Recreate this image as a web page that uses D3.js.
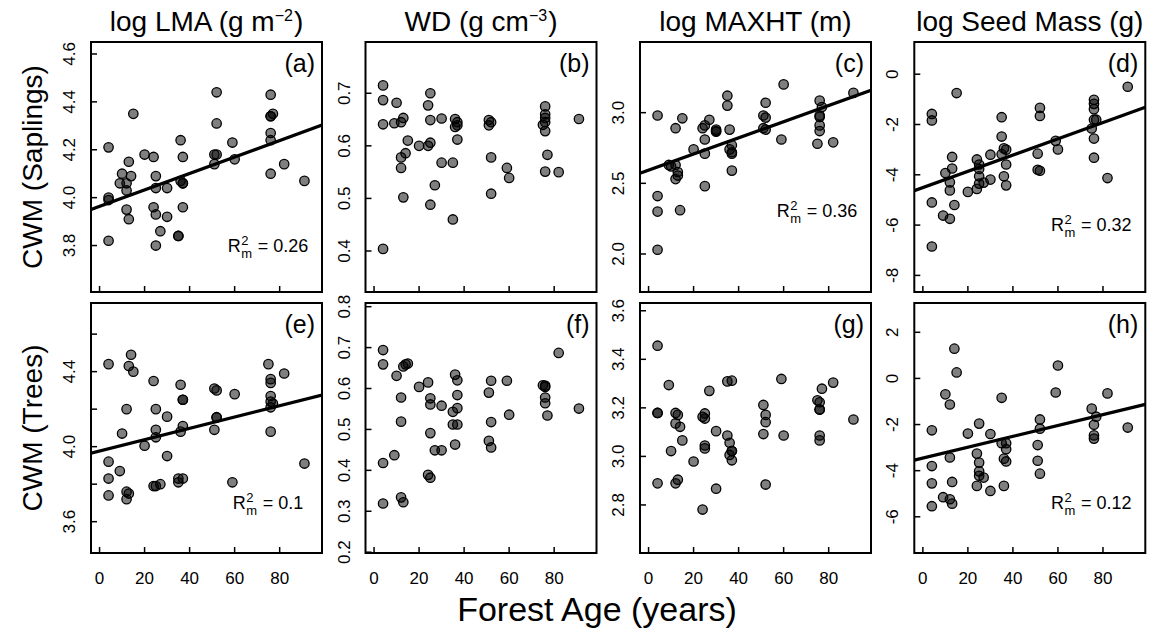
<!DOCTYPE html>
<html>
<head>
<meta charset="utf-8">
<script src="https://cdn.jsdelivr.net/npm/d3@7"></script>
<style>
  body { margin: 0; background: #fff; }
  svg { display: block; font-family: "Liberation Sans", Arial, sans-serif; }
</style>
</head>
<body>
<div id="chart"></div>
<script>
// forest age (years) vs community weighted mean, [age, value]
var lmaSap = [[4,4.21],[4,4.00],[4,3.99],[4,3.82],[10,4.10],[9,4.06],[12,4.06],[12,4.03],[13,4.15],[14,4.09],[12,3.95],[13,3.91],[15,4.35],[20,4.18],[24,4.17],[25,4.09],[25,4.04],[24,3.96],[25,3.93],[27,3.86],[25,3.80],[30,4.04],[30,3.92],[35,3.84],[35,3.84],[36,4.24],[37,4.17],[36,4.07],[37,4.06],[37,4.06],[37,3.96],[52,4.44],[52,4.31],[51,4.18],[52,4.18],[51,4.14],[59,4.23],[60,4.16],[76,4.43],[76,4.34],[77,4.35],[76,4.34],[76,4.27],[76,4.24],[76,4.10],[82,4.14],[91,4.07]];
var wdSap = [[4,0.715],[4,0.687],[4,0.641],[4,0.404],[9,0.643],[10,0.682],[12,0.645],[13,0.653],[15,0.610],[14,0.586],[12,0.578],[12,0.558],[13,0.502],[20,0.600],[24,0.677],[25,0.700],[25,0.649],[25,0.606],[24,0.600],[27,0.525],[25,0.488],[30,0.652],[30,0.568],[35,0.568],[35,0.460],[36,0.651],[37,0.645],[36,0.636],[37,0.639],[37,0.612],[51,0.649],[52,0.645],[51,0.639],[52,0.578],[52,0.509],[59,0.558],[60,0.539],[76,0.675],[76,0.660],[76,0.653],[76,0.645],[75,0.640],[76,0.628],[77,0.583],[76,0.551],[82,0.550],[91,0.651]];
var maxhtSap = [[4,2.98],[4,2.41],[4,2.30],[4,2.03],[9,2.63],[10,2.62],[12,2.89],[12,2.63],[12,2.53],[13,2.58],[13,2.555],[14,2.31],[15,2.96],[20,2.74],[24,2.89],[25,2.91],[25,2.81],[25,2.71],[25,2.48],[27,2.95],[30,2.88],[30,2.87],[30,2.865],[35,3.12],[35,3.05],[36,2.88],[36,2.74],[37,2.77],[37,2.72],[37,2.71],[37,2.59],[51,2.98],[52,3.07],[52,2.965],[51,2.89],[52,2.88],[59,2.81],[60,3.20],[76,3.085],[76,2.98],[76,2.97],[76,2.91],[76,2.87],[75,2.78],[77,3.04],[82,2.79],[91,3.14]];
var seedSap = [[4,-1.58],[4,-1.84],[4,-5.10],[4,-6.85],[9,-5.62],[10,-3.93],[12,-4.30],[12,-4.62],[12,-5.75],[13,-3.29],[13,-3.75],[14,-5.20],[15,-0.75],[20,-4.68],[24,-3.39],[25,-3.59],[25,-3.77],[25,-4.06],[25,-4.35],[24,-4.56],[27,-4.31],[30,-3.20],[30,-4.19],[35,-1.71],[35,-2.48],[35,-3.18],[36,-4.06],[37,-4.42],[37,-3.59],[37,-3.00],[36,-2.95],[51,-3.16],[51,-3.80],[52,-3.84],[52,-1.34],[52,-1.66],[59,-2.65],[60,-2.99],[76,-1.02],[76,-1.18],[76,-1.39],[76,-1.81],[77,-1.81],[75,-2.16],[76,-2.56],[76,-3.32],[82,-4.13],[91,-0.50]];
var lmaTree = [[4,4.44],[4,3.92],[4,3.83],[4,3.74],[9,3.87],[10,4.07],[12,4.20],[12,3.76],[12,3.72],[13,3.75],[13,4.43],[14,4.49],[15,4.40],[20,4.005],[24,4.35],[24,3.79],[25,4.20],[25,4.09],[25,4.05],[25,3.79],[27,3.80],[30,4.16],[30,3.95],[35,3.83],[35,3.81],[36,4.33],[37,4.25],[37,4.25],[37,4.11],[36,4.08],[37,3.83],[51,4.31],[52,4.30],[52,4.157],[52,4.155],[51,4.09],[59,3.81],[60,4.28],[75,4.44],[76,4.36],[76,4.34],[76,4.27],[76,4.24],[77,4.23],[76,4.21],[76,4.08],[82,4.39],[91,3.91]];
var wdTree = [[4,0.694],[4,0.659],[4,0.418],[4,0.319],[9,0.437],[10,0.631],[12,0.578],[12,0.519],[12,0.334],[13,0.322],[13,0.654],[14,0.659],[15,0.661],[20,0.604],[24,0.615],[24,0.389],[25,0.382],[25,0.576],[25,0.561],[25,0.491],[27,0.449],[30,0.558],[30,0.449],[35,0.543],[35,0.512],[36,0.634],[36,0.463],[37,0.620],[37,0.584],[37,0.552],[37,0.512],[51,0.590],[51,0.472],[52,0.619],[52,0.518],[52,0.456],[59,0.619],[60,0.536],[75,0.608],[76,0.607],[76,0.604],[76,0.578],[76,0.564],[77,0.534],[82,0.687],[91,0.551]];
var maxhtTree = [[4,3.456],[4,3.179],[4,3.179],[4,2.889],[9,3.294],[10,3.022],[12,3.179],[12,3.136],[12,2.889],[13,3.171],[13,2.904],[14,3.122],[15,3.066],[20,2.979],[24,3.163],[24,2.781],[25,3.177],[25,3.156],[25,3.045],[25,3.033],[27,3.270],[30,3.104],[30,2.867],[35,3.309],[35,3.086],[36,3.056],[36,3.006],[37,3.312],[37,3.022],[37,3.022],[37,2.984],[51,3.212],[51,3.092],[52,3.171],[52,3.141],[52,2.884],[59,3.319],[60,3.086],[75,3.231],[76,3.223],[76,3.193],[76,3.193],[76,3.086],[76,3.066],[77,3.279],[82,3.304],[91,3.152]];
var seedTree = [[4,-2.25],[4,-3.80],[4,-4.55],[4,-5.54],[9,-5.15],[10,-0.69],[12,-1.13],[12,-3.43],[12,-5.24],[13,-5.43],[13,-4.49],[14,1.29],[15,0.26],[20,-2.39],[24,-3.26],[24,-4.66],[25,-1.96],[25,-3.65],[25,-4.03],[25,-4.22],[27,-4.30],[30,-2.41],[30,-4.88],[35,-0.84],[35,-2.81],[36,-3.48],[37,-2.81],[37,-3.07],[37,-3.60],[36,-4.66],[51,-2.89],[51,-3.57],[52,-1.78],[52,-2.18],[52,-4.13],[59,-0.61],[60,0.56],[75,-1.31],[77,-1.66],[76,-2.01],[76,-2.47],[76,-2.61],[82,-0.65],[91,-2.13]];

var colTitles = [
  [["log LMA (g m", 0], ["\u22122", 1], [")", 0]],
  [["WD (g cm", 0], ["\u22123", 1], [")", 0]],
  [["log MAXHT (m)", 0]],
  [["log Seed Mass (g)", 0]]
];
var rowTitles = ["CWM (Saplings)", "CWM (Trees)"];
var panelLetters = ["(a)", "(b)", "(c)", "(d)", "(e)", "(f)", "(g)", "(h)"];
var panelData = [lmaSap, wdSap, maxhtSap, seedSap, lmaTree, wdTree, maxhtTree, seedTree];
var yDomains = [[3.606, 4.65], [0.322, 0.7975], [1.731, 3.5], [-8.66, 1.28],
                [3.433, 4.766], [0.198, 0.809], [2.602, 3.632], [-7.57, 3.27]];
var yTicks = [[3.8, 4.0, 4.2, 4.4, 4.6], [0.4, 0.5, 0.6, 0.7], [2.0, 2.5, 3.0], [-8, -6, -4, -2, 0],
              [3.6, 3.8, 4.0, 4.2, 4.4, 4.6], [0.2, 0.3, 0.4, 0.5, 0.6, 0.7, 0.8], [2.8, 3.0, 3.2, 3.4, 3.6], [-6, -4, -2, 0, 2]];
var yLabels = [[3.8, 4.0, 4.2, 4.4, 4.6], [0.4, 0.5, 0.6, 0.7], [2.0, 2.5, 3.0], [-8, -6, -4, -2, 0],
               [3.6, 4.0, 4.4], [0.2, 0.3, 0.4, 0.5, 0.6, 0.7, 0.8], [2.8, 3.0, 3.2, 3.4, 3.6], [-6, -4, -2, 0, 2]];
var yDecimals = [1, 1, 1, 0, 1, 1, 1, 0];
var xTicks = [0, 20, 40, 60, 80];
// fitted lines: [intercept, slope], null = no significant trend
var fits = [[3.964, 0.00343], null, [2.593, 0.00572], [-4.507, 0.0323],
            [3.977, 0.00302], null, null, [-3.452, 0.02354]];
var r2 = ["0.26", null, "0.36", "0.32", "0.1", null, null, "0.12"];
var r2Pos = [0.84, 0, 0.70, 0.756, 0.825, 0, 0, 0.825]; // fraction of panel height

var width = 1151, height = 636;
var panelW = 231, panelH = 250;
var lefts = [91, 365.5, 640, 914.3];
var tops = [42, 303];

var svg = d3.select("#chart").append("svg")
    .attr("width", width)
    .attr("height", height);

var x = d3.scaleLinear().domain([-3.8, 98.8]).range([0, panelW]);

panelData.forEach(function(data, i) {
  var col = i % 4, row = Math.floor(i / 4);
  var g = svg.append("g").attr("transform", "translate(" + lefts[col] + "," + tops[row] + ")");
  var y = d3.scaleLinear().domain(yDomains[i]).range([panelH, 0]);

  var clipId = "clip" + i;
  g.append("clipPath").attr("id", clipId)
    .append("rect").attr("width", panelW).attr("height", panelH);

  // fit line
  if (fits[i]) {
    var f = fits[i];
    var xd = x.domain();
    g.append("line")
      .attr("clip-path", "url(#" + clipId + ")")
      .attr("x1", x(xd[0])).attr("y1", y(f[0] + f[1] * xd[0]))
      .attr("x2", x(xd[1])).attr("y2", y(f[0] + f[1] * xd[1]))
      .attr("stroke", "#000").attr("stroke-width", 3.2);
  }

  g.selectAll("circle").data(data).enter().append("circle")
    .attr("cx", function(d) { return x(d[0]); })
    .attr("cy", function(d) { return y(d[1]); })
    .attr("r", 4.7)
    .attr("fill", "#000").attr("fill-opacity", 0.5)
    .attr("stroke", "#000").attr("stroke-width", 1.3);

  // ticks (inside)
  g.selectAll(".xt").data(xTicks).enter().append("line")
    .attr("x1", function(d) { return x(d); }).attr("x2", function(d) { return x(d); })
    .attr("y1", panelH).attr("y2", panelH - 6)
    .attr("stroke", "#000").attr("stroke-width", 1.5);
  g.selectAll(".yt").data(yTicks[i]).enter().append("line")
    .attr("y1", function(d) { return y(d); }).attr("y2", function(d) { return y(d); })
    .attr("x1", 0).attr("x2", 6)
    .attr("stroke", "#000").attr("stroke-width", 1.5);

  g.selectAll(".yl").data(yLabels[i]).enter().append("text")
    .attr("transform", function(d) { return "translate(-16," + y(d) + ") rotate(-90)"; })
    .attr("text-anchor", "middle")
    .attr("font-size", 17)
    .text(function(d) { return d.toFixed(yDecimals[i]); });

  if (row === 1) {
    g.selectAll(".xl").data(xTicks).enter().append("text")
      .attr("x", function(d) { return x(d); })
      .attr("y", panelH + 31)
      .attr("text-anchor", "middle")
      .attr("font-size", 17)
      .text(function(d) { return d; });
  }

  // frame
  g.append("rect")
    .attr("width", panelW).attr("height", panelH)
    .attr("fill", "none").attr("stroke", "#000").attr("stroke-width", 2);

  g.append("text")
    .attr("x", panelW - 7).attr("y", 30)
    .attr("text-anchor", "end")
    .attr("font-size", 25)
    .text(panelLetters[i]);

  if (r2[i]) {
    var lab = g.append("g");
    var by = panelH * r2Pos[i];
    var tR = lab.append("text").attr("x", 0).attr("y", by).attr("font-size", 18).text("R");
    var wR = tR.node().getComputedTextLength();
    var t2 = lab.append("text").attr("x", wR + 0.5).attr("y", by - 7).attr("font-size", 13).text("2");
    var tm = lab.append("text").attr("x", wR + 0.5).attr("y", by + 6).attr("font-size", 13).text("m");
    var wS = Math.max(t2.node().getComputedTextLength(), tm.node().getComputedTextLength());
    var tv = lab.append("text").attr("x", wR + wS + 1).attr("y", by).attr("font-size", 18)
      .text("\u00a0= " + r2[i]);
    var total = wR + wS + 1 + tv.node().getComputedTextLength();
    lab.attr("transform", "translate(" + (panelW - 54 - total / 2) + ",0)");
  }
});

// column titles: pieces laid out one after another, superscripts as own text
colTitles.forEach(function(parts, c) {
  var hg = svg.append("g");
  var cx = 0;
  parts.forEach(function(p) {
    var t = hg.append("text")
      .attr("x", cx)
      .attr("y", p[1] ? 21 : 31)
      .attr("font-size", p[1] ? 16 : 28)
      .text(p[0]);
    cx += t.node().getComputedTextLength() + (p[1] ? 1 : 0);
  });
  hg.attr("transform", "translate(" + (lefts[c] + panelW / 2 - cx / 2) + ",0)");
});

rowTitles.forEach(function(s, r) {
  svg.append("text")
    .attr("transform", "translate(42," + (tops[r] + panelH / 2) + ") rotate(-90)")
    .attr("text-anchor", "middle")
    .attr("font-size", 28)
    .text(s);
});

svg.append("text")
  .attr("x", 597).attr("y", 621)
  .attr("text-anchor", "middle")
  .attr("font-size", 34)
  .text("Forest Age (years)");
</script>
</body>
</html>
